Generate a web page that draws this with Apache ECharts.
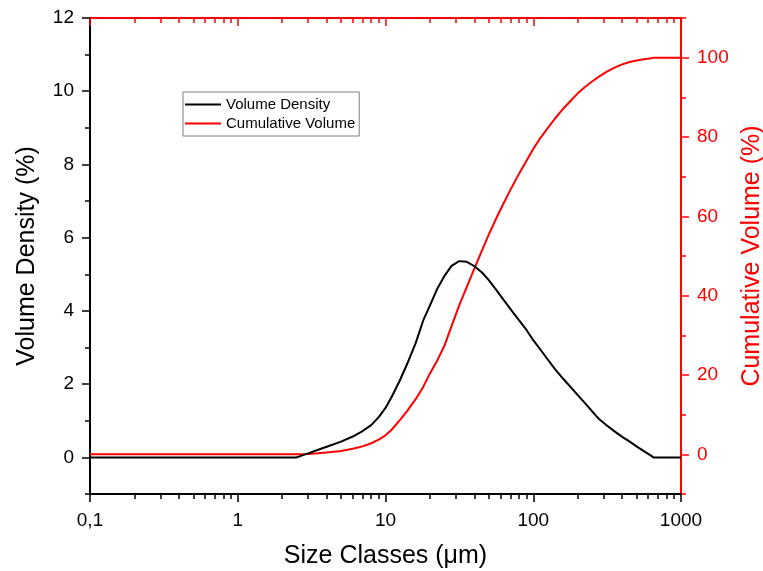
<!DOCTYPE html>
<html>
<head>
<meta charset="utf-8">
<script src="https://cdn.jsdelivr.net/npm/echarts@6/dist/echarts.min.js"></script>
<style>html,body{margin:0;padding:0;background:#fff;}#c{width:763px;height:571px;}</style>
</head>
<body>
<div id="c"></div>
<script>
// ---- data ----
const sizes = [0.1, 0.2, 0.5, 1, 2, 2.5, 3, 3.5, 4, 5, 6, 7, 8, 9, 10, 11, 12.5, 14, 16, 18, 20, 22.5, 25, 28, 31.5, 35.5, 40, 45, 50, 56, 63, 71, 80, 90, 100, 112, 125, 140, 160, 180, 200, 224, 250, 280, 315, 355, 400, 450, 500, 560, 630, 650, 710, 800, 1000];
const volumeDensity = [0, 0, 0, 0, 0, 0, 0.11, 0.21, 0.29, 0.43, 0.57, 0.72, 0.88, 1.1, 1.35, 1.65, 2.1, 2.55, 3.12, 3.74, 4.15, 4.62, 4.95, 5.23, 5.36, 5.34, 5.22, 5.05, 4.84, 4.58, 4.3, 4.02, 3.75, 3.48, 3.2, 2.94, 2.68, 2.42, 2.14, 1.91, 1.7, 1.48, 1.26, 1.04, 0.87, 0.71, 0.56, 0.43, 0.3, 0.17, 0.04, 0, 0, 0, 0];
const cumulativeVolume = [0, 0, 0, 0, 0, 0, 0.1, 0.25, 0.45, 0.85, 1.4, 2.0, 2.8, 3.7, 4.8, 6.2, 8.6, 10.9, 13.9, 17.0, 20.4, 23.8, 27.3, 32.3, 37.5, 42.2, 46.9, 51.4, 55.4, 59.4, 63.3, 67.1, 70.7, 74.0, 77.0, 79.8, 82.2, 84.6, 87.2, 89.2, 91.0, 92.6, 94.0, 95.3, 96.5, 97.5, 98.3, 98.9, 99.3, 99.6, 99.85, 100, 100, 100, 100];
const xMajorTicks = [0.1, 1, 10, 100, 1000];
const xMinorTicks = [0.2,0.3,0.4,0.5,0.6,0.7,0.8,0.9, 2,3,4,5,6,7,8,9, 20,30,40,50,60,70,80,90, 200,300,400,500,600,700,800,900];
const leftMajorTicks = [0, 2, 4, 6, 8, 10, 12];
const leftMinorTicks = [-1, 1, 3, 5, 7, 9, 11];
const rightMajorTicks = [0, 20, 40, 60, 80, 100];
const rightMinorTicks = [-10, 10, 30, 50, 70, 90, 110];
const seriesNames = ['Volume Density', 'Cumulative Volume'];
const xTitle = 'Size Classes (μm)';
const yLeftTitle = 'Volume Density (%)';
const yRightTitle = 'Cumulative Volume (%)';

const FONT = '"Liberation Sans", Arial, sans-serif';
const RED = '#ff0000';
const BLACK = '#000000';

function xAxisDef(opts) {
  return Object.assign({
    type: 'log', logBase: 10, min: 0.1, max: 1000,
    splitLine: {show: false}, minorTick: {show: false}
  }, opts);
}
function yAxisDef(opts) {
  return Object.assign({
    type: 'value', splitLine: {show: false}, minorTick: {show: false}
  }, opts);
}

const chart = echarts.init(document.getElementById('c'), null, {renderer: 'canvas'});
const option = {
  animation: false,
  backgroundColor: '#fff',
  grid: {left: 90, right: 82, top: 18, bottom: 77, containLabel: false, outerBoundsMode: 'none'},
  legend: {
    show: true, orient: 'vertical', left: 183, top: 92,
    data: seriesNames,
    icon: 'rect', itemWidth: 36, itemHeight: 2, itemGap: 2,
    padding: [4, 4, 4, 2],
    borderColor: '#808080', borderWidth: 1,
    textStyle: {fontFamily: FONT, fontSize: 15, color: '#000', lineHeight: 17}
  },
  xAxis: [
    xAxisDef({position: 'bottom',
      name: xTitle, nameLocation: 'middle', nameGap: 50,
      nameTextStyle: {fontFamily: FONT, fontSize: 25, color: BLACK},
      axisLine: {show: true, onZero: false, lineStyle: {color: BLACK, width: 2}},
      axisTick: {show: true, inside: false, length: 8, lineStyle: {color: BLACK, width: 1.5}, customValues: xMajorTicks},
      axisLabel: {show: true, margin: 17, fontFamily: FONT, fontSize: 19, color: BLACK, customValues: xMajorTicks,
        formatter: v => (Math.abs(v - 0.1) < 1e-9 ? '0,1' : String(Math.round(v)))}
    }),
    xAxisDef({position: 'bottom',
      axisLine: {show: false, onZero: false},
      axisTick: {show: true, inside: false, length: 5, lineStyle: {color: BLACK, width: 1.5}, customValues: xMinorTicks},
      axisLabel: {show: false}
    }),
    xAxisDef({position: 'top',
      axisLine: {show: true, onZero: false, lineStyle: {color: RED, width: 2}},
      axisTick: {show: true, inside: true, length: 8, lineStyle: {color: RED, width: 1.5}, customValues: xMajorTicks},
      axisLabel: {show: false}
    }),
    xAxisDef({position: 'top',
      axisLine: {show: false, onZero: false},
      axisTick: {show: true, inside: true, length: 5, lineStyle: {color: RED, width: 1.5}, customValues: xMinorTicks},
      axisLabel: {show: false}
    })
  ],
  yAxis: [
    yAxisDef({position: 'left', min: -1, max: 12,
      name: yLeftTitle, nameLocation: 'middle', nameGap: 50, nameRotate: 90,
      nameTextStyle: {fontFamily: FONT, fontSize: 25, color: BLACK},
      axisLine: {show: true, onZero: false, lineStyle: {color: BLACK, width: 2}},
      axisTick: {show: true, inside: false, length: 8, lineStyle: {color: BLACK, width: 1.5}, customValues: leftMajorTicks},
      axisLabel: {show: true, margin: 16, fontFamily: FONT, fontSize: 19, color: BLACK, customValues: leftMajorTicks}
    }),
    yAxisDef({position: 'left', min: -1, max: 12,
      axisLine: {show: false, onZero: false},
      axisTick: {show: true, inside: false, length: 5, lineStyle: {color: BLACK, width: 1.5}, customValues: leftMinorTicks},
      axisLabel: {show: false}
    }),
    yAxisDef({position: 'right', min: -10, max: 110,
      name: yRightTitle, nameLocation: 'middle', nameGap: 56, nameRotate: 90,
      nameTextStyle: {fontFamily: FONT, fontSize: 25, color: RED},
      axisLine: {show: true, onZero: false, lineStyle: {color: RED, width: 2}},
      axisTick: {show: true, inside: false, length: 8, lineStyle: {color: RED, width: 1.5}, customValues: rightMajorTicks},
      axisLabel: {show: true, margin: 16, fontFamily: FONT, fontSize: 19, color: RED, customValues: rightMajorTicks}
    }),
    yAxisDef({position: 'right', min: -10, max: 110,
      axisLine: {show: false, onZero: false},
      axisTick: {show: true, inside: false, length: 5, lineStyle: {color: RED, width: 1.5}, customValues: rightMinorTicks},
      axisLabel: {show: false}
    })
  ],
  series: [
    {
      name: seriesNames[0], type: 'line', xAxisIndex: 0, yAxisIndex: 0,
      data: sizes.map((s, i) => [s, volumeDensity[i]]),
      showSymbol: false, symbol: 'none', smooth: false,
      lineStyle: {color: BLACK, width: 2}, itemStyle: {color: BLACK}, z: 3
    },
    {
      name: seriesNames[1], type: 'line', xAxisIndex: 0, yAxisIndex: 2,
      data: sizes.map((s, i) => [s, cumulativeVolume[i]]),
      showSymbol: false, symbol: 'none', smooth: false,
      lineStyle: {color: RED, width: 2}, itemStyle: {color: RED}, z: 2
    }
  ]
};
chart.setOption(option);
</script>
</body>
</html>
